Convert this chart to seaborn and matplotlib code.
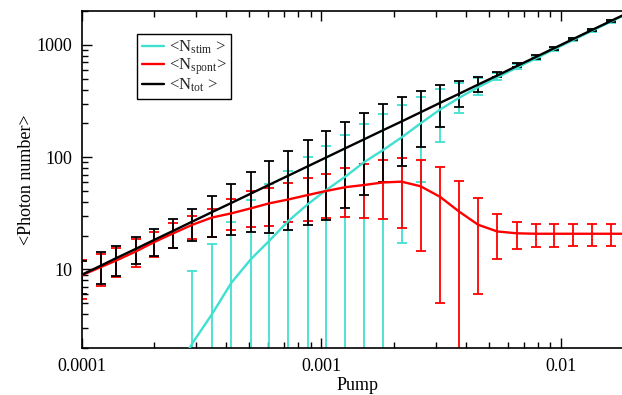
import numpy as np
import pandas as pd
import matplotlib
matplotlib.use('Agg')
import matplotlib.pyplot as plt
import seaborn as sns
from matplotlib.ticker import FixedLocator, FixedFormatter, NullFormatter

# ---------------- data ----------------
pump = [1.000e-4, 1.197e-4, 1.387e-4, 1.681e-4, 1.998e-4, 2.405e-4, 2.888e-4,
        3.490e-4, 4.202e-4, 5.063e-4, 6.053e-4, 7.268e-4, 8.758e-4, 1.047e-3,
        1.257e-3, 1.505e-3, 1.801e-3, 2.162e-3, 2.596e-3, 3.125e-3, 3.762e-3,
        4.515e-3, 5.420e-3, 6.531e-3, 7.843e-3, 9.376e-3, 1.126e-2, 1.351e-2,
        1.618e-2, 1.942e-2]

n_stim = [0.02, 0.04, 0.08, 0.18, 0.45, 1.1, 2.2, 4.0, 7.6, 12.3, 18.0, 27, 38,
          51, 67, 90, 115, 150, 200, 265, 338, 420, 512, 625, 757, 913, 1106,
          1337, 1610, 1940]
stim_lo = [0.01, 0.01, 0.01, 0.01, 0.01, 0.01, 0.01, 0.01, 0.01, 0.01, 0.01,
           0.01, 0.01, 0.01, 0.01, 0.01, 0.01, 17.3, 60.5, 137, 245, 357, 487,
           605, 735, 886, 1073, 1297, 1562, 1880]
stim_hi = [0.05, 0.1, 0.2, 0.4, 0.9, 1.8, 9.75, 16.9, 26.6, 41.5, 58, 76, 100,
           125, 157, 196, 240, 290, 345, 402, 454, 504, 557, 675, 779, 940,
           1139, 1377, 1658, 2000]

n_spont = [8.9, 10.5, 12.0, 14.5, 17.5, 21.0, 25.0, 29.0, 31.6, 35.0, 38.8, 42,
           46, 50, 54, 56.5, 59.5, 60.5, 55, 44.4, 32.7, 25.0, 21.8, 21.0, 20.8,
           20.8, 20.8, 20.8, 20.8, 20.8]
spont_lo = [5.5, 7.2, 8.5, 10.5, 13.0, 15.5, 18.5, 19.3, 22.4, 23.7, 24.4, 26.6,
            27.0, 28.9, 29.1, 28.9, 28.0, 23.5, 14.7, 5.0, 0.5, 6.05, 12.3, 15.1,
            16.0, 16.0, 16.1, 16.1, 16.1, 16.1]
spont_hi = [12.1, 13.8, 15.6, 18.5, 21.5, 25.8, 29.9, 34.4, 42.2, 50.3, 52.8,
            58.5, 64.8, 70.8, 79.6, 86.3, 94.4, 97.7, 94.4, 82.2, 61.7, 43.5,
            31.0, 26.6, 25.4, 25.4, 25.3, 25.3, 25.3, 25.3]

n_tot = [9.0, 10.8, 12.6, 15.3, 18.3, 22.1, 26.7, 32.4, 39.1, 47.3, 56.8, 68.4,
         82.8, 99.4, 119.9, 144, 173, 208, 251, 304, 367, 443, 533, 646, 778,
         934, 1127, 1358, 1631, 1963]
tot_lo = [6.0, 7.4, 8.75, 11.1, 13.2, 15.6, 18.0, 19.3, 20.3, 21.7, 21.2, 22.4,
          24.9, 27.6, 35.5, 46, 60.5, 83.4, 122, 187, 281, 383, 514, 631, 748,
          904, 1097, 1323, 1591, 1918]
tot_hi = [12.0, 14.2, 16.2, 19.6, 22.9, 28.0, 34.5, 45, 57.3, 73.3, 93, 114,
          141, 171, 207, 249, 295, 345, 391, 439, 476, 514, 577, 684, 808, 964,
          1157, 1393, 1671, 2008]

labels = ['<N$_{\\mathrm{stim}}$ >', '<N$_{\\mathrm{spont}}$>', '<N$_{\\mathrm{tot}}$ >']
colors = ['#40E0D0', '#FF0000', '#000000']

# ---------------- style ----------------
sns.set_theme(style='ticks')
plt.rcParams['font.family'] = ['Liberation Serif', 'DejaVu Serif']
plt.rcParams['mathtext.fontset'] = 'custom'
plt.rcParams['mathtext.rm'] = 'Liberation Serif'
plt.rcParams['mathtext.it'] = 'Liberation Serif:italic'

fig = plt.figure(figsize=(6.22, 3.95), dpi=100)
ax = fig.add_axes([82 / 622, 47 / 395, 551 / 622, 337 / 395])

series = [(labels[0], n_stim, stim_lo, stim_hi, colors[0]),
          (labels[1], n_spont, spont_lo, spont_hi, colors[1]),
          (labels[2], n_tot, tot_lo, tot_hi, colors[2])]

for lab, mean, lo, hi, col in series:
    m = np.array(mean)
    yerr = [m - np.array(lo), np.array(hi) - m]
    ax.errorbar(pump, m, yerr=yerr, fmt='none', ecolor=col, elinewidth=1.3,
                capsize=3.5, capthick=1.3, zorder=2)
    df = pd.DataFrame({'pump': pump, 'value': mean})
    sns.lineplot(data=df, x='pump', y='value', color=col, linewidth=1.7,
                 label=lab, ax=ax, zorder=3)

ax.set_xscale('log')
ax.set_yscale('log')
ax.set_xlim(1e-4, 2e-2)
ax.set_ylim(2, 2000)

ax.xaxis.set_major_locator(FixedLocator([1e-4, 1e-3, 1e-2]))
ax.xaxis.set_major_formatter(FixedFormatter(['0.0001', '0.001', '0.01']))
xminor = [k * 10.0 ** e for e in (-4, -3, -2) for k in range(2, 10)]
ax.xaxis.set_minor_locator(FixedLocator(xminor))
ax.xaxis.set_minor_formatter(NullFormatter())

ax.yaxis.set_major_locator(FixedLocator([10, 100, 1000]))
ax.yaxis.set_major_formatter(FixedFormatter(['10', '100', '1000']))
yminor = [k * 10.0 ** e for e in (0, 1, 2, 3) for k in range(2, 10)]
ax.yaxis.set_minor_locator(FixedLocator(yminor))
ax.yaxis.set_minor_formatter(NullFormatter())

ax.tick_params(which='both', direction='in', top=True, right=True,
               colors='black', labelsize=13, width=1.0)
ax.tick_params(which='major', length=7, pad=7)
ax.tick_params(which='minor', length=4)
for sp in ax.spines.values():
    sp.set_linewidth(1.2)
    sp.set_color('black')
    sp.set_visible(True)

ax.set_xlabel('Pump', fontsize=13, color='black', labelpad=2)
ax.set_ylabel('<Photon number>', fontsize=13, color='black', labelpad=1)

leg = ax.legend(loc='upper left', bbox_to_anchor=(0.0998, 0.9318),
                borderaxespad=0, frameon=True, fancybox=False,
                edgecolor='black', framealpha=1, fontsize=12,
                handlelength=1.3, handletextpad=0.3, labelspacing=0.0,
                borderpad=0.3)
leg.get_frame().set_linewidth(1.0)

fig.savefig('out.png', dpi=100)
